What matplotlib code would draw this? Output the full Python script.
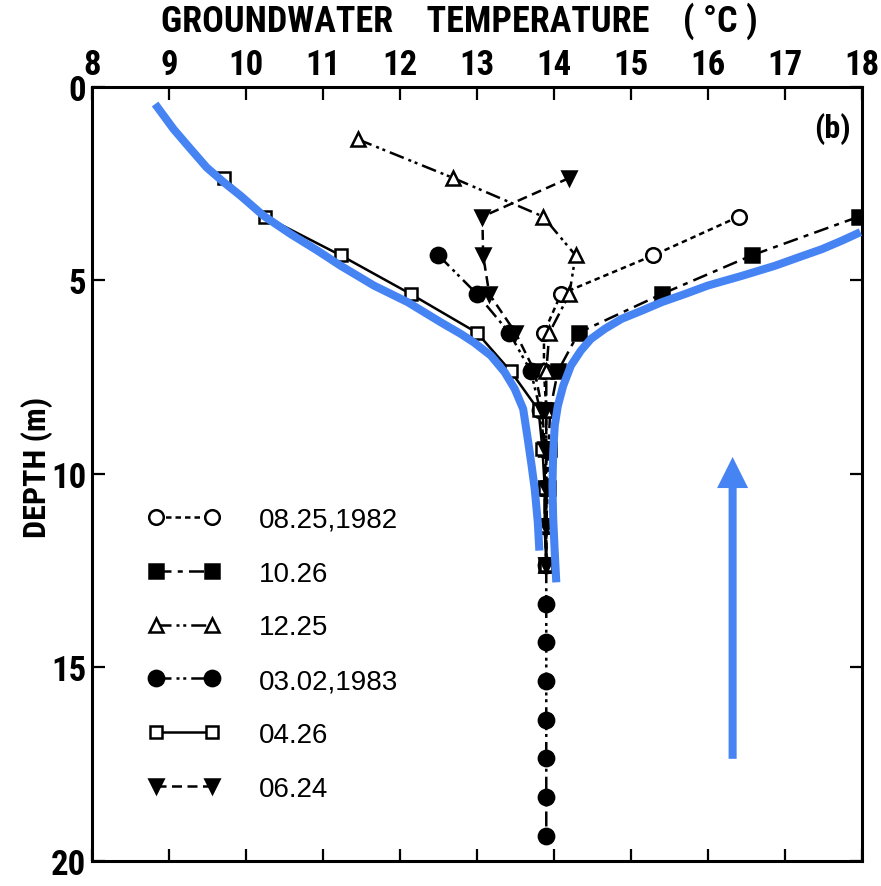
import numpy as np
from matplotlib import pyplot as plt
from matplotlib import font_manager

# fonts: a narrow bold face if one is there, else DejaVu at a smaller size
names = set(f.name for f in font_manager.fontManager.ttflist)
narrow = 'DejaVu Sans'
for cand in ['Liberation Sans Narrow', 'Roboto Condensed', 'Open Sans Condensed',
             'DejaVu Sans Condensed']:
    if cand in names:
        narrow = cand
        break
plain = 'Liberation Sans' if 'Liberation Sans' in names else 'DejaVu Sans'
big = 25 if narrow != 'DejaVu Sans' else 19

# depth of the sampling points (m)
depth = np.arange(1.35, 19.4, 1.0)

# temperature profiles (deg C), starting at the given depth index
t_0825 = [16.4, 15.29, 14.09, 13.87, 13.87, 13.9, 13.9, 13.9, 13.9, 13.9]
t_1026 = [17.96, 16.57, 15.4, 14.32, 14.05, 13.95, 13.93, 13.92, 13.9, 13.9]
t_1225 = [11.45, 12.69, 13.86, 14.28, 14.2, 13.94, 13.9, 13.9, 13.9, 13.9, 13.9, 13.9]
t_0302 = [12.5, 13.0, 13.42, 13.7, 13.82, 13.88, 13.88, 13.88, 13.9,
          13.9, 13.9, 13.9, 13.9, 13.9, 13.9, 13.9]
t_0426 = [9.71, 10.25, 11.23, 12.14, 13.0, 13.44, 13.8, 13.85, 13.88, 13.88, 13.9]
t_0624 = [14.2, 13.07, 13.08, 13.16, 13.5, 13.75, 13.85, 13.88, 13.9, 13.9, 13.9]
start = {'0825': 2, '1026': 2, '1225': 0, '0302': 3, '0426': 1, '0624': 1}

labels = ['08.25,1982', '10.26', '12.25', '03.02,1983', '04.26', '06.24']

# blue sketch curves
blue_left_t = [8.82, 9.06, 9.28, 9.49, 9.71, 9.93, 10.23, 10.58, 10.93, 11.23, 11.45, 11.66,
               12.10, 12.53, 12.79, 12.96, 13.18, 13.36, 13.49, 13.60, 13.66, 13.71, 13.75,
               13.79, 13.81]
blue_left_d = [0.44, 1.09, 1.60, 2.08, 2.46, 2.81, 3.33, 3.80, 4.23, 4.62, 4.88, 5.13,
               5.56, 6.08, 6.38, 6.60, 6.94, 7.37, 7.80, 8.32, 9.10, 9.79, 10.39,
               11.25, 11.98]
blue_right_t = [14.03, 14.01, 13.99, 13.98, 13.99, 14.01, 14.05, 14.12, 14.22, 14.35, 14.48,
                14.66, 14.88, 15.14, 15.40, 15.70, 16.00, 16.44, 16.87, 17.18, 17.48, 17.74,
                17.98]
blue_right_d = [12.80, 12.02, 11.16, 10.30, 9.44, 8.75, 8.24, 7.72, 7.20, 6.81, 6.51,
                6.25, 5.99, 5.78, 5.56, 5.35, 5.13, 4.88, 4.62, 4.40, 4.19, 3.97,
                3.75]
arrow_t = 16.32
arrow_d = [17.36, 9.56]

blue = '#4684F4'

fig = plt.figure(figsize=(8.81, 8.87), dpi=100)
ax = fig.add_axes([0.1044, 0.0282, 0.874, 0.8726])

lw = 1.8
styles = [
    ('0825', t_0825, dict(marker='o', mfc='white', ls=(0, (2.2, 1.6)), ms=10.5)),
    ('1026', t_1026, dict(marker='s', mfc='black', ls=(0, (6, 2.5, 2, 2.5)), ms=9.5)),
    ('1225', t_1225, dict(marker='^', mfc='white', ls=(0, (6, 2, 1.2, 1.5, 1.2, 2)), ms=9.5)),
    ('0302', t_0302, dict(marker='o', mfc='black', ls=(0, (6, 2, 1.2, 1.5, 1.2, 2)), ms=11)),
    ('0426', t_0426, dict(marker='s', mfc='white', ls='-', ms=9)),
    ('0624', t_0624, dict(marker='v', mfc='black', ls=(0, (4, 2.2)), ms=10.5)),
]
for (key, t, kw), lab in zip(styles, labels):
    i0 = start[key]
    d = depth[i0:i0 + len(t)]
    ax.plot(t, d, color='black', lw=lw, mec='black', mew=1.8, label=lab, **kw)

ax.plot(blue_left_t, blue_left_d, color=blue, lw=5.8, solid_capstyle='butt',
        solid_joinstyle='round', zorder=5)
ax.plot(blue_right_t, blue_right_d, color=blue, lw=5.8, solid_capstyle='butt',
        solid_joinstyle='round', zorder=5)
ax.annotate('', xy=(arrow_t, arrow_d[1]), xytext=(arrow_t, arrow_d[0]),
            arrowprops=dict(arrowstyle='-|>,head_length=1.3,head_width=0.65',
                            color=blue, lw=5.8, shrinkA=0, shrinkB=0,
                            capstyle='butt', joinstyle='miter'), zorder=5)

ax.set_xlim(8, 18)
ax.set_ylim(20, 0)
ax.set_xticks(range(8, 19))
ax.set_yticks([0, 5, 10, 15, 20])
ax.xaxis.tick_top()
ax.tick_params(axis='both', direction='in', length=9, width=1.6,
               top=True, bottom=True, left=True, right=True, pad=4)
ax.tick_params(axis='x', labeltop=True, labelbottom=False)
for lab in ax.get_xticklabels() + ax.get_yticklabels():
    lab.set_fontfamily([narrow, 'DejaVu Sans'])
    lab.set_fontweight('bold')
    lab.set_fontsize(big)
for s in ax.spines.values():
    s.set_linewidth(2.2)

ax.set_ylabel('DEPTH (m)', fontsize=big - 2, fontweight='bold',
              family=[narrow, 'DejaVu Sans'])
ax.yaxis.set_label_coords(-0.05, 0.51)
fig.text(0.521, 0.997, 'GROUNDWATER    TEMPERATURE    ( °C )', ha='center', va='top',
         fontsize=big + 1, fontweight='bold', family=[narrow, 'DejaVu Sans'])
ax.text(17.62, 1.05, '(b)', ha='center', va='center', fontsize=big - 2,
        fontweight='bold', family=[narrow, 'DejaVu Sans'])

ax.legend(loc='upper left', bbox_to_anchor=(0.04, 0.49), frameon=False,
          numpoints=2, handlelength=2.6, handletextpad=1.4, labelspacing=1.0,
          prop={'family': plain, 'size': 20})

fig.savefig('out.png', dpi=100)
